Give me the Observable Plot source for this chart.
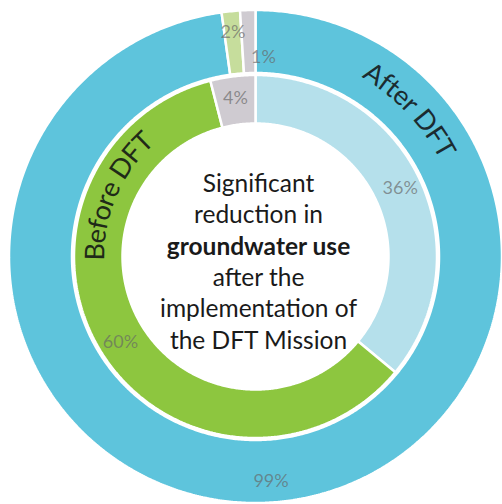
<!DOCTYPE html>
<html><head><meta charset="utf-8">
<script src="https://cdn.jsdelivr.net/npm/d3@7"></script>
<script src="https://cdn.jsdelivr.net/npm/@observablehq/plot@0.6"></script>
<style>html,body{margin:0;padding:0;background:#fff;}</style>
</head><body><div id="chart"></div>
<script>
// ---- Data ----
const ringNames = ["Before DFT", "After DFT"];
const sliceKeys = ["Other source", "Groundwater", "Not reported"];
const beforeValues = [36, 60, 4];
const beforeLabels = ["36%", "60%", "4%"];
const afterValues = [97.8, 1.2, 1.0];
const afterLabels = ["99%", "2%", "1%"];
const centerLines = ["Significant", "reduction in", "groundwater use", "after the", "implementation of", "the DFT Mission"];
const boldLineIndex = 2;

// ---- Styles / layout ----
const FONT = "Lato, 'Open Sans', sans-serif";
const ringStyle = {
  "Before DFT": {r0: 133, r1: 181.5, colors: ["#b5e0eb", "#8dc63f", "#cfcbd1"], labelR: 160,
                 nudge: [{}, {}, {}], nameR: 160, nameAngle: -66.5, nameColor: "#1f2a18"},
  "After DFT":  {r0: 183.5, r1: 246.5, colors: ["#5ec4dc", "#c6dd9c", "#cfcbd1"], labelR: 225,
                 nudge: [{}, {}, {dA: 4.1, r: 199}], nameR: 217, nameAngle: 46.5, nameColor: "#1b2b30"}
};
const ringData = {
  "Before DFT": {values: beforeValues, labels: beforeLabels},
  "After DFT": {values: afterValues, labels: afterLabels}
};
const rad = Math.PI / 180;

// ---- Build slice polygons from the values ----
const polys = [];
const labels = [];
for (const ring of ringNames) {
  const {values, labels: labs} = ringData[ring];
  const st = ringStyle[ring];
  const total = d3.sum(values);
  let acc = 0;
  values.forEach((v, i) => {
    const a0 = acc / total * 360, a1 = (acc + v) / total * 360;
    acc += v;
    const id = ring + "|" + sliceKeys[i];
    const n = Math.max(2, Math.ceil((a1 - a0) / 0.5));
    const pts = [];
    for (let k = 0; k <= n; k++) { const a = (a0 + (a1 - a0) * k / n) * rad; pts.push({id, color: st.colors[i], x: st.r1 * Math.sin(a), y: -st.r1 * Math.cos(a)}); }
    for (let k = n; k >= 0; k--) { const a = (a0 + (a1 - a0) * k / n) * rad; pts.push({id, color: st.colors[i], x: st.r0 * Math.sin(a), y: -st.r0 * Math.cos(a)}); }
    pts.push({...pts[0]});
    polys.push(...pts);
    const nd = st.nudge[i] || {};
    const am = ((a0 + a1) / 2 + (nd.dA || 0)) * rad;
    const lr = nd.r || st.labelR;
    labels.push({text: labs[i], x: lr * Math.sin(am), y: -lr * Math.cos(am)});
  });
}

// ---- Curved ring names (one text per character) ----
const ctx = document.createElement("canvas").getContext("2d");
function arcText(text, centerDeg, r, size, color) {
  ctx.font = `${size}px Lato`;
  const chars = [...text];
  const w = chars.map(c => ctx.measureText(c).width);
  const total = d3.sum(w);
  let s = -total / 2;
  return chars.map((c, i) => {
    const mid = s + w[i] / 2; s += w[i];
    const a = centerDeg * rad + mid / r;
    return {c, color, x: r * Math.sin(a), y: -r * Math.cos(a), rot: a / rad};
  }).filter(d => d.c !== " ");
}
const NAME_SIZE = 27;
const nameChars = ringNames.flatMap(n => arcText(n, ringStyle[n].nameAngle, ringStyle[n].nameR, NAME_SIZE, ringStyle[n].nameColor));

const centerData = centerLines.map((t, i) => ({t, i, x: 3, y: 6 + (i - 2.5) * 31.4}));

const chart = Plot.plot({
  width: 502, height: 504, margin: 0,
  x: {domain: [-255, 247], range: [0, 502], axis: null},
  y: {domain: [-256, 248], range: [0, 504], axis: null},
  style: {fontFamily: FONT, background: "#fff"},
  marks: [
    Plot.line(polys, {x: "x", y: "y", z: "id", fill: "color", stroke: "white", strokeWidth: 2.5, strokeLinejoin: "miter", curve: "linear"}),
    Plot.text(labels, {x: "x", y: "y", text: "text", fontSize: 18, fill: "#666", fillOpacity: 0.66, lineAnchor: "middle"}),
    Plot.text(nameChars, {x: "x", y: "y", text: "c", rotate: "rot", fill: "color", fontSize: NAME_SIZE, lineAnchor: "middle"}),
    Plot.text(centerData.filter(d => d.i !== boldLineIndex), {x: "x", y: "y", text: "t", fontSize: 24.5, fill: "#1a1a1a", lineAnchor: "middle"}),
    Plot.text(centerData.filter(d => d.i === boldLineIndex), {x: "x", y: "y", text: "t", fontSize: 24.5, fontWeight: "bold", fill: "#1a1a1a", lineAnchor: "middle"})
  ]
});
document.getElementById("chart").append(chart);
</script>
</body></html>
